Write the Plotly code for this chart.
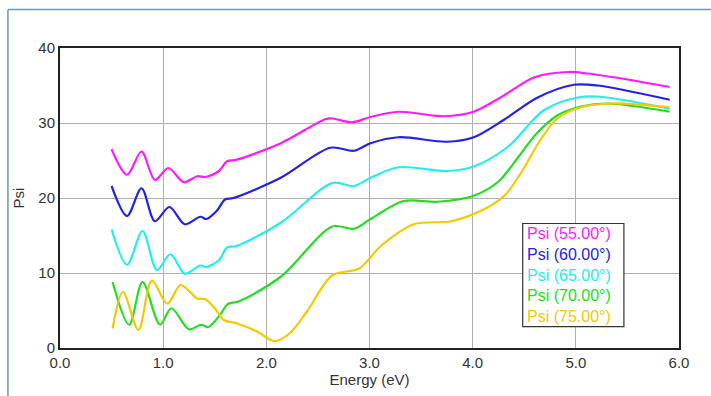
import plotly.graph_objects as go

# Magenta - Psi (55.00°)
e55 = [0.50, 0.65, 0.79, 0.92, 1.05, 1.20, 1.33, 1.41, 1.54, 1.62, 1.71, 2.14, 2.57, 2.64, 2.83, 3.01, 3.28, 3.72, 4.01, 4.27, 4.60, 4.92, 5.11, 5.50, 5.91]
p55 = [26.5, 23.1, 26.2, 22.4, 24.0, 22.1, 22.9, 22.8, 23.6, 24.9, 25.1, 27.3, 30.5, 30.6, 30.1, 30.8, 31.5, 30.9, 31.5, 33.4, 36.1, 36.8, 36.6, 35.8, 34.8]

# Blue - Psi (60.00°)
e60 = [0.50, 0.65, 0.79, 0.92, 1.06, 1.21, 1.36, 1.42, 1.52, 1.60, 1.68, 2.14, 2.62, 2.85, 3.01, 3.28, 3.75, 4.01, 4.30, 4.63, 4.98, 5.21, 5.91]
p60 = [21.6, 17.6, 21.3, 16.9, 18.8, 16.5, 17.5, 17.2, 18.3, 19.8, 20.0, 22.7, 26.7, 26.3, 27.3, 28.1, 27.5, 28.1, 30.4, 33.4, 35.1, 35.0, 33.1]

# Cyan - Psi (65.00°)
e65 = [0.50, 0.65, 0.80, 0.94, 1.07, 1.21, 1.36, 1.42, 1.54, 1.62, 1.71, 2.14, 2.64, 2.85, 3.01, 3.28, 3.75, 4.01, 4.34, 4.69, 5.02, 5.24, 5.91]
p65 = [15.8, 11.1, 15.6, 10.4, 12.5, 9.9, 11.0, 10.8, 11.7, 13.4, 13.6, 16.7, 22.0, 21.6, 22.7, 24.1, 23.6, 24.2, 26.8, 31.7, 33.4, 33.5, 31.9]

# Green - Psi (70.00°)
e70 = [0.51, 0.67, 0.80, 0.97, 1.08, 1.25, 1.37, 1.44, 1.55, 1.63, 1.73, 2.14, 2.64, 2.85, 3.01, 3.33, 3.66, 4.01, 4.25, 4.45, 4.62, 4.82, 5.05, 5.31, 5.91]
p70 = [8.8, 3.1, 8.8, 3.1, 5.3, 2.5, 3.1, 2.8, 4.4, 5.9, 6.2, 9.5, 16.2, 15.9, 17.2, 19.6, 19.5, 20.3, 22.2, 25.6, 28.6, 31.0, 32.2, 32.6, 31.5]

# Yellow - Psi (75.00°)
e75 = [0.51, 0.61, 0.76, 0.89, 1.04, 1.17, 1.33, 1.41, 1.50, 1.59, 1.71, 1.91, 2.08, 2.23, 2.39, 2.64, 2.90, 3.11, 3.43, 3.79, 4.08, 4.30, 4.48, 4.65, 4.82, 5.05, 5.34, 5.91]
p75 = [2.6, 7.5, 2.4, 9.0, 5.9, 8.4, 6.6, 6.5, 5.3, 3.7, 3.3, 2.2, 0.9, 2.0, 4.8, 9.7, 10.6, 13.6, 16.5, 16.9, 18.3, 20.2, 23.6, 27.6, 30.6, 32.1, 32.6, 32.1]

names = ["Psi (55.00°)", "Psi (60.00°)", "Psi (65.00°)", "Psi (70.00°)", "Psi (75.00°)"]
colors = ["#ff1aff", "#2222e6", "#22eeee", "#22dd22", "#f5c800"]
xs = [e55, e60, e65, e70, e75]
ys = [p55, p60, p65, p70, p75]

x_ticks = [0, 1, 2, 3, 4, 5, 6]
x_tick_text = ["0.0", "1.0", "2.0", "3.0", "4.0", "5.0", "6.0"]
y_ticks = [0, 10, 20, 30, 40]

fig = go.Figure()
for x, y, n, c in zip(xs, ys, names, colors):
    fig.add_trace(go.Scatter(x=x, y=y, name=n, mode="lines",
                             line=dict(color=c, width=2.2, shape="spline", smoothing=0.9)))

fig.update_layout(
    width=711, height=396,
    margin=dict(l=60, r=32, t=48, b=46),
    paper_bgcolor="white", plot_bgcolor="white",
    showlegend=False,
    font=dict(family="Liberation Sans, Arial, sans-serif", size=15, color="#333333"),
)
fig.update_xaxes(range=[0, 6], tickvals=x_ticks, ticktext=x_tick_text,
                 showgrid=True, gridcolor="#b0b0b0", gridwidth=1,
                 showline=True, linecolor="#222222", linewidth=2, mirror=True,
                 ticks="", zeroline=False,
                 title=dict(text="Energy (eV)", standoff=2, font=dict(size=15)))
fig.update_yaxes(range=[0, 40], tickvals=y_ticks,
                 showgrid=True, gridcolor="#b0b0b0", gridwidth=1,
                 showline=True, linecolor="#222222", linewidth=2, mirror=True,
                 ticks="", zeroline=False,
                 title=dict(text="Psi", standoff=10, font=dict(size=15)))

# Outer frame (blue-gray)
fig.add_shape(type="line", xref="paper", yref="paper",
              x0=-0.0841, x1=1.2, y0=1.1287, y1=1.1287,
              line=dict(color="#6a98b8", width=1.5))
fig.add_shape(type="line", xref="paper", yref="paper",
              x0=-0.0841, x1=-0.0841, y0=1.1287, y1=-0.2,
              line=dict(color="#6a98b8", width=1.5))

# Legend box with colored text (single text block)
fig.add_shape(type="rect", xref="x", yref="y", x0=4.485, x1=5.466, y0=2.85, y1=16.6,
              line=dict(color="#333333", width=1.2), fillcolor="white", layer="above")
legend_text = "<br>".join(f"<span style='color:{c}'>{n}</span>" for n, c in zip(names, colors))
fig.add_annotation(xref="x", yref="y", x=4.51, y=9.72, xanchor="left", yanchor="middle",
                   text=legend_text, showarrow=False, align="left",
                   font=dict(size=16, family="Liberation Sans, Arial, sans-serif"))

fig.write_html("out.html")
